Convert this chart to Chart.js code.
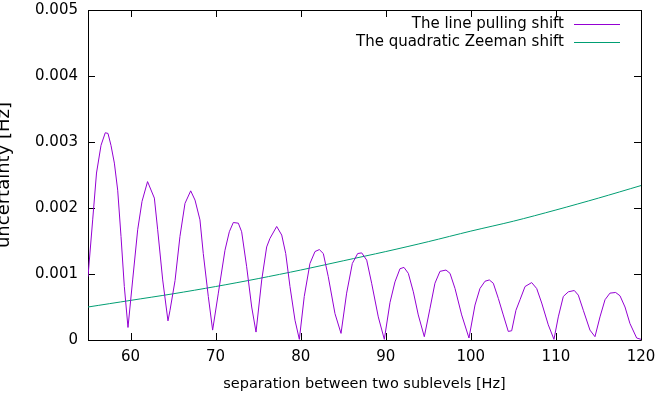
<!DOCTYPE html>
<html>
<head>
<meta charset="utf-8">
<script src="https://cdn.jsdelivr.net/npm/chart.js@4.4.1/dist/chart.umd.min.js"></script>
<style>
body { margin: 0; background: #fff; }
canvas { display: block; }
</style>
</head>
<body>
<canvas id="mycanvas" width="655" height="397"></canvas>
<script>
// values
var xTicks = [60, 70, 80, 90, 100, 110, 120];
var yTicks = [0, 0.001, 0.002, 0.003, 0.004, 0.005];

var pullX = [55, 55.55, 56.0, 56.53, 57.03, 57.35, 57.7, 58.1, 58.49, 58.88, 59.27, 59.7,
	60.25, 60.84, 61.35, 62.0, 62.8, 63.19, 63.78, 64.4,
	64.64, 65.23, 65.81, 66.4, 67.07, 67.58, 68.16, 68.55, 69.14, 69.65,
	70.32, 71.1, 71.61, 72.08, 72.67, 73.06, 73.65, 74.24, 74.75,
	75.42, 76.0, 76.39, 77.18, 77.77, 78.24, 78.74, 79.33, 79.84,
	80.42, 81.09, 81.68, 82.19, 82.66, 83.24, 84.03, 84.74,
	85.4, 86.07, 86.7, 87.17, 87.76, 88.34, 89.12, 89.83,
	90.5, 91.08, 91.67, 92.14, 92.65, 93.24, 93.82, 94.53,
	95.2, 95.78, 96.37, 97.08, 97.55, 98.14, 98.92, 99.78,
	100.49, 101.07, 101.66, 102.17, 102.64, 103.23, 103.81, 104.4, 104.8,
	105.3, 105.78, 106.37, 107.15, 107.74, 108.33, 109.1, 109.77,
	110.28, 110.87, 111.46, 112.16, 112.63, 113.22, 114.0, 114.59,
	115.18, 115.77, 116.35, 117.02, 117.53, 118.12, 118.7, 119.49, 120];
var pullY = [0.00096, 0.00182, 0.00253, 0.00295, 0.00314, 0.00313, 0.00295, 0.00268, 0.00227, 0.00157, 0.00081, 0.00019,
	0.00091, 0.00167, 0.0021, 0.0024, 0.00215, 0.00167, 0.00091, 0.00029,
	0.00045, 0.0009, 0.00157, 0.00207, 0.00226, 0.00212, 0.00182, 0.00131, 0.00066, 0.00015,
	0.00071, 0.00136, 0.00164, 0.00178, 0.00177, 0.00164, 0.00111, 0.0005, 0.00012,
	0.00091, 0.00141, 0.00154, 0.00172, 0.00159, 0.00131, 0.00081, 0.0003, 0.00001,
	0.00066, 0.00116, 0.00134, 0.00137, 0.00131, 0.00096, 0.0004, 0.0001,
	0.00071, 0.00116, 0.00131, 0.00132, 0.00121, 0.00086, 0.00035, 0.00001,
	0.00057, 0.00088, 0.00108, 0.0011, 0.00101, 0.00073, 0.00038, 0.00005,
	0.00048, 0.00086, 0.00104, 0.00106, 0.00101, 0.00078, 0.00038, 0.00003,
	0.00053, 0.00078, 0.00089, 0.00091, 0.00086, 0.00063, 0.00038, 0.00013, 0.00014,
	0.00045, 0.00061, 0.00081, 0.00087, 0.00078, 0.00056, 0.00023, 0.00001,
	0.00035, 0.00066, 0.00073, 0.00075, 0.00068, 0.00045, 0.00015, 0.00005,
	0.00035, 0.00061, 0.00071, 0.00072, 0.00067, 0.0005, 0.00025, 0.00003, 0.00001];

var zeemanX = [55, 60, 65, 70, 75, 80, 85, 90, 95, 100, 105, 110, 115, 120];
var zeemanY = [0.0005, 0.0006, 0.0007, 0.00081, 0.00093, 0.00106, 0.0012, 0.00134, 0.00149, 0.00165, 0.0018, 0.00197, 0.00215, 0.00234];

function punkty(xs, ys) {
	var out = [];
	for (var i = 0; i < xs.length; i++) out.push({x: xs[i], y: ys[i]});
	return out;
}

var rodzina = "'DejaVu Sans', sans-serif";
var font = {family: rodzina, size: 15};

// gnuplot style frame with inward ticks on all four sides
var ramka = {
	id: 'ramka',
	beforeDatasetsDraw: function(chart) {
		var c = chart.ctx, a = chart.chartArea;
		var sx = chart.scales.x, sy = chart.scales.y;
		c.save();
		c.strokeStyle = '#000';
		c.lineWidth = 1;
		c.beginPath();
		c.rect(Math.round(a.left) + 0.5, Math.round(a.top) + 0.5, Math.round(a.right - a.left), Math.round(a.bottom - a.top));
		xTicks.forEach(function(v) {
			var px = Math.round(sx.getPixelForValue(v)) + 0.5;
			c.moveTo(px, a.bottom); c.lineTo(px, a.bottom - 7);
			c.moveTo(px, a.top); c.lineTo(px, a.top + 7);
		});
		yTicks.forEach(function(v) {
			var py = Math.round(sy.getPixelForValue(v)) + 0.5;
			c.moveTo(a.left, py); c.lineTo(a.left + 7, py);
			c.moveTo(a.right, py); c.lineTo(a.right - 7, py);
		});
		c.stroke();
		c.restore();
	}
};

// key in the top right corner, text on the left of the sample line
var klucz = {
	id: 'klucz',
	afterDatasetsDraw: function(chart) {
		var c = chart.ctx;
		c.save();
		c.font = '15px ' + rodzina;
		c.textAlign = 'right';
		c.textBaseline = 'middle';
		chart.data.datasets.forEach(function(ds, i) {
			var y = 24 + i * 18;
			c.fillStyle = '#000';
			c.fillText(ds.label, 564, y);
			c.strokeStyle = ds.borderColor;
			c.lineWidth = 1;
			c.beginPath();
			c.moveTo(574, y + 0.5); c.lineTo(620, y + 0.5);
			c.stroke();
		});
		c.restore();
	}
};

function bezMarginesu(s) {
	s.paddingTop = 0; s.paddingBottom = 0; s.paddingLeft = 0; s.paddingRight = 0;
}

var ctx = document.getElementById('mycanvas');
var wykres = new Chart(ctx, {
	type: 'line',
	data: {
		datasets: [
			{
				label: 'The line pulling shift',
				data: punkty(pullX, pullY),
				borderColor: '#9400d3',
				borderWidth: 1,
				pointRadius: 0,
				tension: 0,
				fill: false
			},
			{
				label: 'The quadratic Zeeman shift',
				data: punkty(zeemanX, zeemanY),
				borderColor: '#009e73',
				borderWidth: 1,
				pointRadius: 0,
				tension: 0.3,
				fill: false
			}
		]
	},
	options: {
		responsive: false,
		animation: false,
		devicePixelRatio: 1,
		layout: {padding: {left: 0, top: 10, right: 14, bottom: 0}},
		plugins: {legend: {display: false}, tooltip: {enabled: false}},
		scales: {
			x: {
				type: 'linear',
				min: 55,
				max: 120,
				afterBuildTicks: function(s) { s.ticks = xTicks.map(function(v) { return {value: v}; }); },
				afterFit: function(s) { s.height = 57; bezMarginesu(s); },
				grid: {display: false, drawTicks: false},
				border: {display: false},
				ticks: {color: '#000', font: font, padding: 8, maxRotation: 0},
				title: {display: true, text: 'separation between two sublevels [Hz]', color: '#000', font: {family: rodzina, size: 14.5}, padding: {top: 0, bottom: 4}}
			},
			y: {
				type: 'linear',
				min: 0,
				max: 0.005,
				afterBuildTicks: function(s) { s.ticks = yTicks.map(function(v) { return {value: v}; }); },
				afterFit: function(s) { s.width = 88; bezMarginesu(s); },
				grid: {display: false, drawTicks: false},
				border: {display: false},
				ticks: {
					color: '#000', font: font, padding: 10,
					callback: function(v) { return v === 0 ? '0' : v.toFixed(3); }
				},
				title: {display: true, text: 'uncertainty [Hz]', color: '#000', font: {family: rodzina, size: 18}, padding: {top: -6, bottom: 0}}
			}
		}
	},
	plugins: [ramka, klucz]
});
</script>
</body>
</html>
